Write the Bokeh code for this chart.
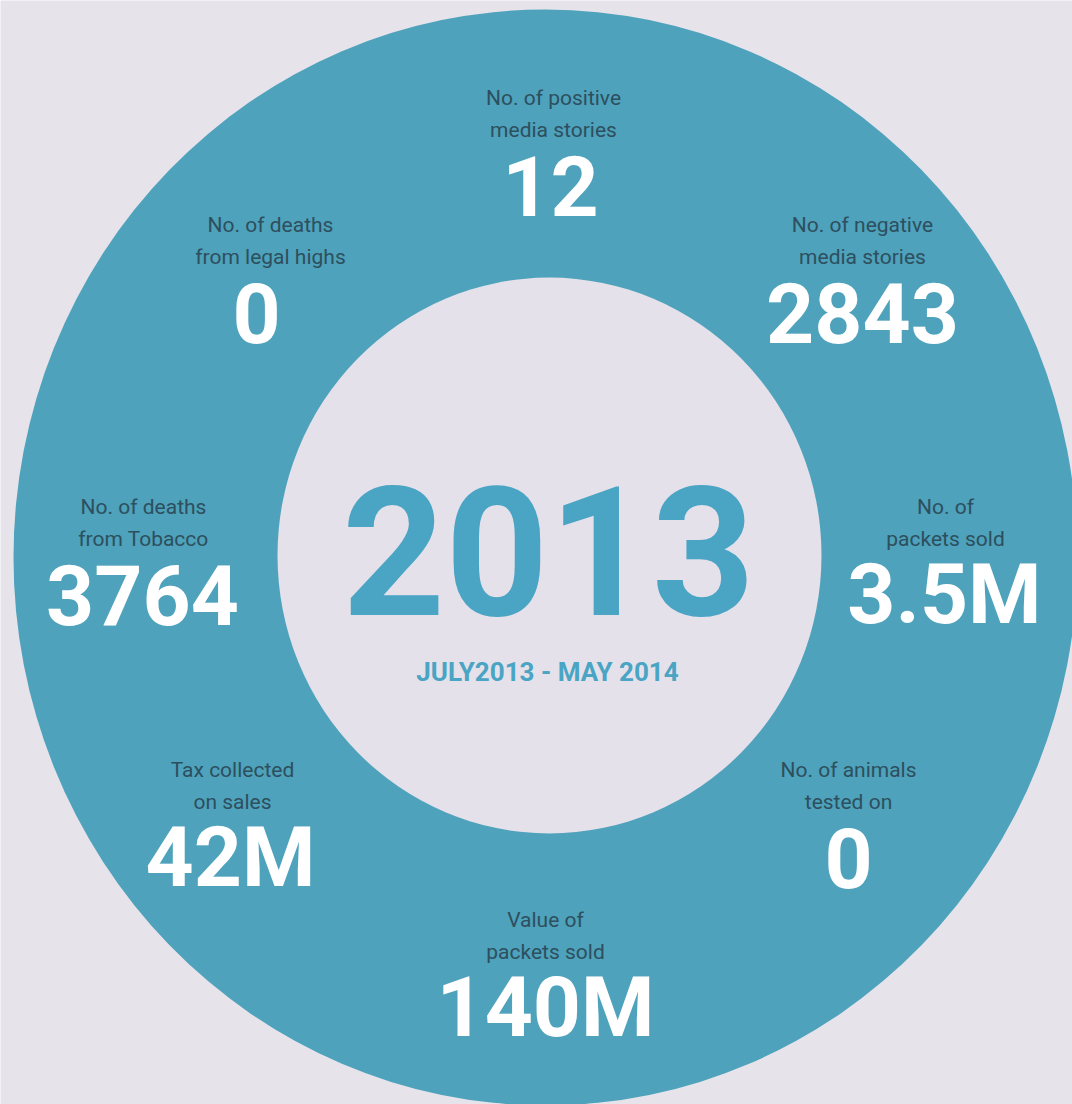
from bokeh.plotting import figure
from bokeh.models import Range1d
from bokeh.core.properties import value
from bokeh.embed import file_html
from bokeh.resources import INLINE

# ---- data ----
year_text = "2013"
period_text = "JULY2013 - MAY 2014"
label_line1 = ["No. of positive", "No. of negative", "No. of", "No. of animals",
               "Value of", "Tax collected", "No. of deaths", "No. of deaths"]
label_line2 = ["media stories", "media stories", "packets sold", "tested on",
               "packets sold", "on sales", "from Tobacco", "from legal highs"]
stat_values = ["12", "2843", "3.5M", "0", "140M", "42M", "3764", "0"]

# ---- layout (reference pixel coordinates, y measured downward) ----
W, H = 1072, 1104
val_x = [550, 862, 944, 848, 545, 230, 142, 256]
val_y = [185, 312, 594, 857, 1007, 857, 594, 312]
lab_x = [553, 862, 945, 848, 545, 232, 143, 270]

def up(y):
    return H - y

TEAL = "#4ea2bb"
BG = "#e6e3eb"
INNER = "#e4e1ea"
LABEL = "#2d4f5e"
YEAR = "#4aa4c4"

p = figure(width=W, height=H, output_backend="svg", toolbar_location=None,
           x_range=Range1d(0, W), y_range=Range1d(0, H), min_border=0,
           background_fill_color=BG, border_fill_color=BG, outline_line_color=None)
p.axis.visible = False
p.grid.visible = False

# ring
p.ellipse(x=[545], y=[up(557)], width=1064, height=1096, fill_color=TEAL, line_color=None)
p.ellipse(x=[549], y=[up(555)], width=544, height=556, fill_color=INNER, line_color=None)

# center texts
p.text(x=[548], y=[up(550)], text=[year_text], text_font=value("Roboto"), text_font_style="bold",
       text_font_size="180px", text_color=YEAR, text_align="center", text_baseline="middle")
p.text(x=[547], y=[up(671)], text=[period_text], text_font=value("Roboto"), text_font_style="bold",
       text_font_size="26px", text_color=YEAR, text_align="center", text_baseline="middle")

# stats
p.text(x=lab_x, y=[up(v - 88) for v in val_y], text=label_line1, text_font=value("Roboto"),
       text_font_size="21px", text_color=LABEL, text_align="center", text_baseline="middle")
p.text(x=lab_x, y=[up(v - 56) for v in val_y], text=label_line2, text_font=value("Roboto"),
       text_font_size="21px", text_color=LABEL, text_align="center", text_baseline="middle")
p.text(x=val_x, y=[up(v) for v in val_y], text=stat_values, text_font=value("Roboto"),
       text_font_style="bold", text_font_size="84px", text_color="white",
       text_align="center", text_baseline="middle")

open("out.html", "w").write(file_html(p, INLINE))
